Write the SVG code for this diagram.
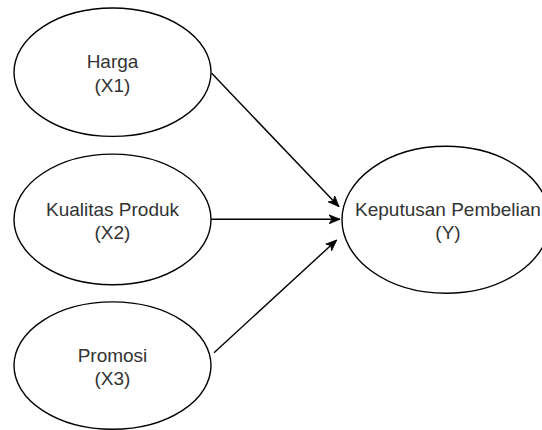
<svg xmlns="http://www.w3.org/2000/svg" width="542" height="430" viewBox="0 0 542 430">
<defs>
<style>
.node ellipse{fill:#ffffff;stroke:#000000;stroke-width:1.4}
.node text{font-family:"Liberation Sans",Arial,Helvetica,sans-serif;font-size:19px;fill:#333333;text-anchor:middle}
.edge{stroke:#000000;stroke-width:1.4;fill:none;marker-end:url(#arrow)}
</style>
<marker id="arrow" viewBox="0 0 12 10" refX="11" refY="5" markerWidth="12" markerHeight="10" markerUnits="userSpaceOnUse" orient="auto">
<path d="M0,0.5 L11,5 L0,9.5 L3,5 Z" fill="#000000" stroke="#000000" stroke-width="0.8" stroke-linejoin="miter"/>
</marker>
</defs>
<rect width="542" height="430" fill="#ffffff"/>
<g id="connectors">
<line class="edge" x1="211.7" y1="73.3" x2="339" y2="206.7"/>
<line class="edge" x1="211" y1="219.3" x2="340" y2="219.3"/>
<line class="edge" x1="214" y1="352.7" x2="336.7" y2="240"/>
</g>
<g id="harga" class="node">
<ellipse cx="112.5" cy="72.2" rx="98.5" ry="64.2"/>
<text x="112.5" y="68">Harga</text>
<text x="112.5" y="91.5">(X1)</text>
</g>
<g id="kualitas" class="node">
<ellipse cx="112.5" cy="219.4" rx="98.5" ry="65.3"/>
<text x="112.5" y="215.5">Kualitas Produk</text>
<text x="112.5" y="238.5">(X2)</text>
</g>
<g id="promosi" class="node">
<ellipse cx="112.5" cy="365.6" rx="98.5" ry="63.7"/>
<text x="112.5" y="361.5">Promosi</text>
<text x="112.5" y="385">(X3)</text>
</g>
<g id="keputusan" class="node">
<ellipse cx="446" cy="219.8" rx="104" ry="73.5"/>
<text x="448" y="215.5">Keputusan Pembelian</text>
<text x="448" y="239">(Y)</text>
</g>
</svg>
